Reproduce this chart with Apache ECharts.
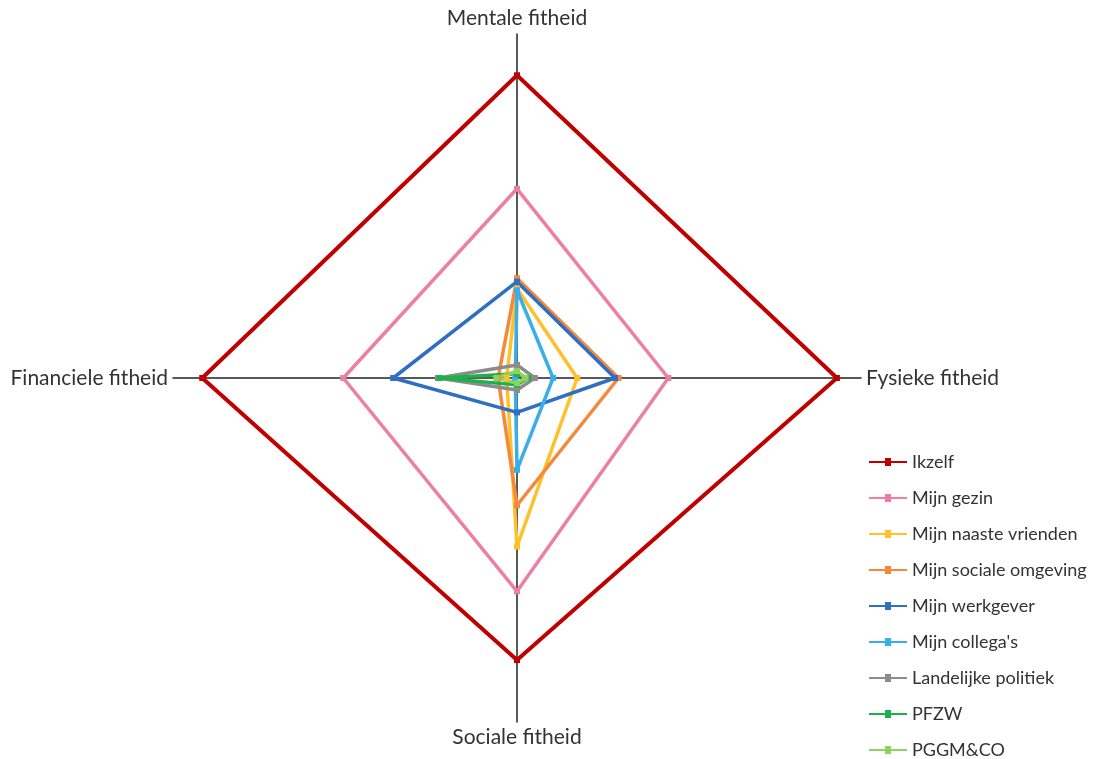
<!DOCTYPE html>
<html>
<head>
<meta charset="utf-8">
<script src="https://cdn.jsdelivr.net/npm/echarts@6/dist/echarts.min.js"></script>
<style>
    html, body { margin: 0; padding: 0; background: #fff; }
    #chart { width: 1094px; height: 759px; }
</style>
</head>
<body>
<div id="chart"></div>
<script>
    // assen (volgorde zoals echarts ze tekent: boven, links, onder, rechts)
    var axisNames = ['Mentale fitheid', 'Financiele fitheid', 'Sociale fitheid', 'Fysieke fitheid'];
    var axisMax = 100;

    var seriesNames = ['Ikzelf', 'Mijn gezin', 'Mijn naaste vrienden', 'Mijn sociale omgeving',
        'Mijn werkgever', "Mijn collega's", 'Landelijke politiek', 'PFZW', 'PGGM&CO'];

    // waarden per reeks: [mentaal, financieel, sociaal, fysiek]
    var ikzelf = [88, 91.5, 82, 93];
    var mijnGezin = [55, 50.5, 62, 44];
    var naasteVrienden = [26, 3, 49, 17.5];
    var socialeOmgeving = [29, 5.5, 37, 29.5];
    var werkgever = [28, 36, 10, 28.5];
    var collegas = [25.5, 0.5, 26.7, 10.5];
    var politiek = [3.8, 23, 3.5, 5.2];
    var pfzw = [1.2, 22.5, 2, 3.2];
    var pggm = [2, 6, 1.5, 2.5];

    var seriesValues = [ikzelf, mijnGezin, naasteVrienden, socialeOmgeving, werkgever, collegas, politiek, pfzw, pggm];
    var colors = ['#C00000', '#EC7FA2', '#FFC12B', '#F5883A', '#2E6FC4', '#3AAEE8', '#8C8C8C', '#1DB14B', '#8ED45A'];

    var chart = echarts.init(document.getElementById('chart'));

    // lijntje met klein vierkantje, zoals in excel
    var legendIcon = 'path://M0,3H16V0H22V3H38V5H22V8H16V5H0Z';

    var data = [];
    for (var i = 0; i < seriesNames.length; i++) {
        data.push({
            name: seriesNames[i],
            value: seriesValues[i],
            symbol: 'rect',
            symbolSize: 6,
            lineStyle: { color: colors[i], width: i === 0 ? 4 : 3.5 },
            itemStyle: { color: colors[i] }
        });
    }

    var option = {
        animation: false,
        color: colors,
        textStyle: { fontFamily: 'Lato' },
        legend: {
            orient: 'vertical',
            left: 869,
            top: 453,
            height: 330,
            padding: 0,
            itemWidth: 38,
            itemHeight: 8,
            itemGap: 18,
            icon: legendIcon,
            textStyle: { fontSize: 18, color: '#333', fontFamily: 'Lato' },
            data: seriesNames
        },
        radar: {
            center: [517, 378],
            radius: 344,
            startAngle: 90,
            shape: 'polygon',
            splitNumber: 1,
            indicator: axisNames.map(function (n) { return { name: n, max: axisMax }; }),
            axisName: { color: '#333', fontSize: 21, fontFamily: 'Lato' },
            nameGap: 5,
            axisLine: { lineStyle: { color: '#222', width: 1.5 } },
            splitLine: { show: false },
            splitArea: { show: false },
            axisTick: { show: false },
            axisLabel: { show: false }
        },
        series: [{
            type: 'radar',
            data: data
        }]
    };

    chart.setOption(option);
</script>
</body>
</html>
